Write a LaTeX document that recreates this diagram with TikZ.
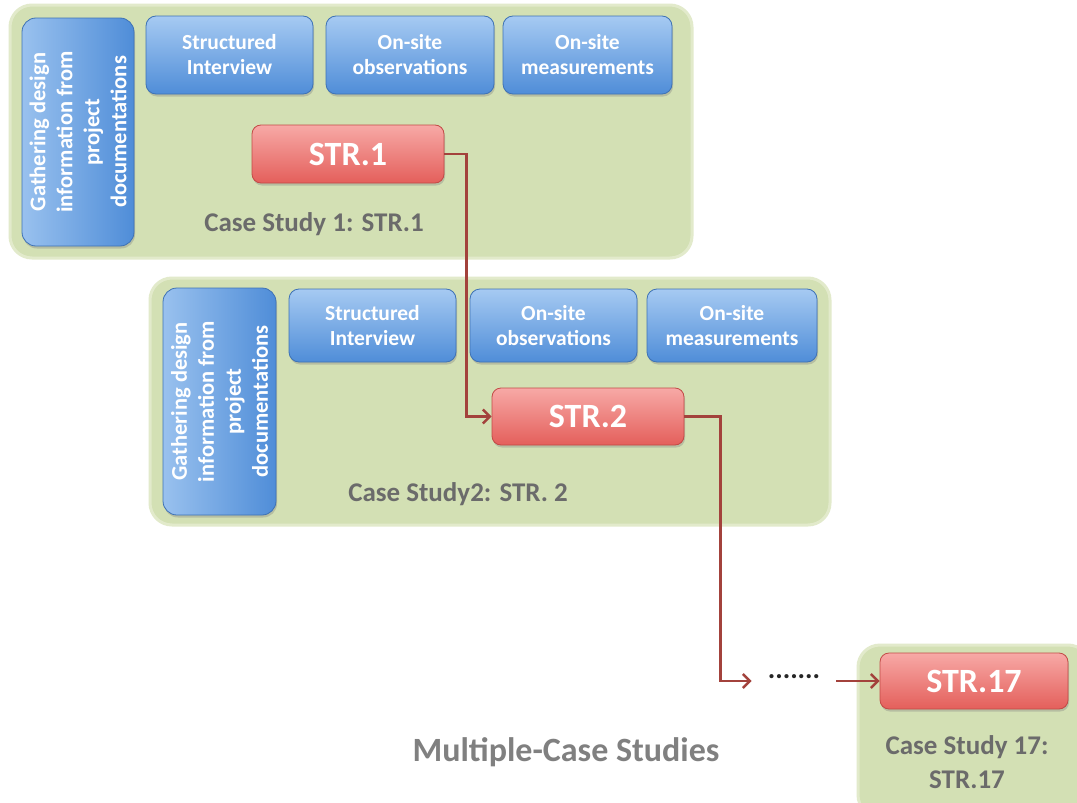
\documentclass[tikz,border=0pt]{standalone}
\usepackage{fontspec}
\setmainfont{Carlito}
\usetikzlibrary{arrows.meta,shadows}

\definecolor{panelgreen}{HTML}{D3E0B4}
\definecolor{panelrim}{HTML}{E2EACB}
\definecolor{bluetop}{HTML}{A6CAF2}
\definecolor{bluebot}{HTML}{4F8DD8}
\definecolor{blueedge}{HTML}{3E72B5}
\definecolor{redtop}{HTML}{F7A9A6}
\definecolor{redbot}{HTML}{E45F5B}
\definecolor{rededge}{HTML}{C24A46}
\definecolor{flowred}{HTML}{A3423C}
\definecolor{labelgrey}{HTML}{6B6B6B}
\definecolor{titlegrey}{HTML}{808080}

\tikzset{
  panel/.style={rounded corners=22pt, fill=panelgreen, draw=panelrim,
    line width=3pt, inner sep=0pt},
  method/.style={rounded corners=10pt, draw=blueedge, line width=0.8pt,
    top color=bluetop, bottom color=bluebot, text=white,
    font=\bfseries\fontsize{21.5}{25}\selectfont, align=center, inner sep=0pt,
    drop shadow={shadow xshift=1pt, shadow yshift=-2.5pt, opacity=0.35}},
  docbox/.style={rounded corners=14pt, draw=blueedge, line width=0.8pt,
    left color=bluetop!85!bluebot, right color=bluebot, text=white,
    font=\bfseries\fontsize{22.5}{27}\selectfont, align=center, inner sep=0pt,
    drop shadow={shadow xshift=1pt, shadow yshift=-2.5pt, opacity=0.35}},
  strbox/.style={rounded corners=9pt, draw=rededge, line width=0.8pt,
    top color=redtop, bottom color=redbot, text=white,
    font=\bfseries\fontsize{34}{36}\selectfont, inner sep=0pt,
    drop shadow={shadow xshift=1pt, shadow yshift=-2.5pt, opacity=0.35}},
  caselabel/.style={text=labelgrey, font=\bfseries\fontsize{27}{34}\selectfont,
    align=center, inner sep=0pt},
  flow/.style={draw=flowred, line width=2.4pt,
    -{Straight Barb[length=7pt 0, width=14pt 0, line width=2.4pt]}},
}

\begin{document}
\begin{tikzpicture}[x=1pt, y=-1pt]
  \clip (0,0) rectangle (1077,803);
  \fill[white] (0,0) rectangle (1077,803);

  % --- case study 1 ---
  \node[panel, minimum width=682pt, minimum height=253pt] (p1) at (351,131.5) {};
  \node[docbox, minimum width=112pt, minimum height=228pt] (d1) at (78,132) {};
  \node[rotate=90, text=white, align=center, inner sep=0pt,
        font=\bfseries\fontsize{22.5}{27}\selectfont] (d1t) at (d1.center)
    {Gathering design\\information from\\project\\documentations};
  \node[method, minimum width=167pt, minimum height=78pt] (i1) at (229.5,55)
    {Structured\\Interview};
  \node[method, minimum width=168pt, minimum height=78pt] (o1) at (410,55)
    {On-site\\observations};
  \node[method, minimum width=169pt, minimum height=78pt] (m1) at (587.5,55)
    {On-site\\measurements};
  \node[strbox, minimum width=192pt, minimum height=58pt] (s1) at (348,154) {STR.1};
  \node[caselabel] (c1) at (314,224) {Case Study 1: STR.1};

  % --- case study 2 ---
  \node[panel, minimum width=680pt, minimum height=247pt] (p2) at (490,401.5) {};
  \node[docbox, minimum width=113pt, minimum height=227pt] (d2) at (219.5,401.5) {};
  \node[rotate=90, text=white, align=center, inner sep=0pt,
        font=\bfseries\fontsize{22.5}{27}\selectfont] (d2t) at (d2.center)
    {Gathering design\\information from\\project\\documentations};
  \node[method, minimum width=167pt, minimum height=73pt] (i2) at (372.5,325.5)
    {Structured\\Interview};
  \node[method, minimum width=167pt, minimum height=73pt] (o2) at (553.5,325.5)
    {On-site\\observations};
  \node[method, minimum width=170pt, minimum height=73pt] (m2) at (732,325.5)
    {On-site\\measurements};
  \node[strbox, minimum width=192pt, minimum height=57pt] (s2) at (588,416.5) {STR.2};
  \node[caselabel] (c2) at (458,494) {Case Study2: STR. 2};

  % --- case study 17 ---
  \node[panel, minimum width=232pt, minimum height=172pt] (p3) at (974,731) {};
  \node[strbox, minimum width=188pt, minimum height=56pt] (s17) at (974,681) {STR.17};
  \node[caselabel] (c17) at (967,762) {Case Study 17:\\STR.17};

  % --- sequence of case studies ---
  \node[inner xsep=16pt, inner ysep=4pt, text=black!85,
        font=\bfseries\fontsize{28}{30}\selectfont] (dots) at (794,677) {.......};

  \draw[flow] (s1.east) -- ++(22,0) |- (s2.west);
  \draw[flow] (s2.east) -- ++(36,0) |- (dots.west |- s17.west);
  \draw[flow] (dots.east |- s17.west) -- (s17.west);

  \node[text=titlegrey, font=\bfseries\fontsize{34}{36}\selectfont] (title)
    at (566,752) {Multiple-Case Studies};
\end{tikzpicture}
\end{document}
